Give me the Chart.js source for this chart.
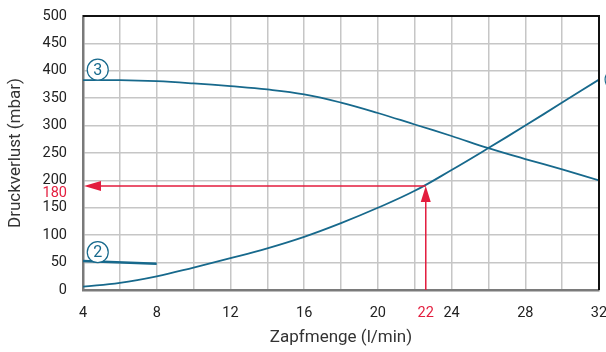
<!DOCTYPE html>
<html lang="de">
<head>
    <meta charset="UTF-8">
    <title>Druckverlust</title>
    <script src="https://cdn.jsdelivr.net/npm/chart.js"></script>
    <style>
        html, body { margin: 0; padding: 0; background: #fff; }
        #wrap { width: 606px; height: 352px; position: relative; }
    </style>
</head>
<body>
<div id="wrap"><canvas id="chart"></canvas></div>
<script>
    // Zapfmenge (l/min)
    const flow = [4, 6, 8, 10, 12, 14, 16, 18, 20, 22, 24, 26, 28, 30, 32];
    // curve 1 (rising)
    const curve1 = [6, 13, 25, 41, 58, 76, 97, 122, 150, 181, 219, 259, 300, 342, 384];
    // curve 3 (falling)
    const curve3 = [383, 383, 381, 377, 372, 366, 357, 342, 323, 302, 281, 259, 239, 220, 200];
    // curve 2 (short line)
    const flow2 = [4, 8];
    const curve2 = [53, 48];

    const xLabels = [4, 8, 12, 16, 20, 24, 28, 32];
    const yLabels = [0, 50, 100, 150, 200, 250, 300, 350, 400, 450, 500];
    const markerX = 22.6, markerXLabel = '22';
    const markerY = 190, markerYLabel = '180';
    const markerYTick = 176;

    const curveLabels = [
        { text: '3', x: 4.8, y: 402 },
        { text: '2', x: 4.8, y: 69 },
        { text: '1', x: 32.9, y: 384 }
    ];

    const blue = '#17698c';
    const red = '#e31d3e';
    const txt = '#222';

    const pts = (xs, ys) => xs.map((x, i) => ({ x, y: ys[i] }));

    const overlay = {
        id: 'overlay',
        afterDraw(chart) {
            const { ctx, chartArea: a, scales: { x, y } } = chart;
            ctx.save();
            // top / right frame
            ctx.strokeStyle = '#111';
            ctx.lineWidth = 2;
            ctx.beginPath();
            ctx.moveTo(a.left, a.top);
            ctx.lineTo(a.right, a.top);
            ctx.lineTo(a.right, a.bottom);
            ctx.stroke();

            // red arrows
            const mx = x.getPixelForValue(markerX);
            const my = y.getPixelForValue(markerY);
            ctx.strokeStyle = red;
            ctx.fillStyle = red;
            ctx.lineWidth = 1.5;
            ctx.beginPath();
            ctx.moveTo(mx, a.bottom);
            ctx.lineTo(mx, my + 12);
            ctx.moveTo(mx, my);
            ctx.lineTo(a.left + 14, my);
            ctx.stroke();
            ctx.beginPath();
            ctx.moveTo(a.left + 1, my);
            ctx.lineTo(a.left + 18, my - 5);
            ctx.lineTo(a.left + 18, my + 5);
            ctx.closePath();
            ctx.fill();
            ctx.beginPath();
            ctx.moveTo(mx, my);
            ctx.lineTo(mx - 5, my + 16);
            ctx.lineTo(mx + 5, my + 16);
            ctx.closePath();
            ctx.fill();

            // circled curve numbers
            ctx.strokeStyle = blue;
            ctx.lineWidth = 1.2;
            ctx.font = '16px Roboto';
            ctx.textAlign = 'center';
            ctx.textBaseline = 'middle';
            curveLabels.forEach(l => {
                const cx = x.getPixelForValue(l.x);
                const cy = y.getPixelForValue(l.y);
                ctx.fillStyle = '#fff';
                ctx.beginPath();
                ctx.arc(cx, cy, 10.5, 0, Math.PI * 2);
                ctx.fill();
                ctx.stroke();
                ctx.fillStyle = blue;
                ctx.fillText(l.text, cx, cy + 1);
            });
            ctx.restore();
        }
    };

    new Chart(document.getElementById('chart'), {
        type: 'line',
        data: {
            datasets: [
                { data: pts(flow, curve1), borderColor: blue, borderWidth: 1.8, tension: 0.4, pointRadius: 0 },
                { data: pts(flow, curve3), borderColor: blue, borderWidth: 1.8, tension: 0.4, pointRadius: 0 },
                { data: pts(flow2, curve2), borderColor: blue, borderWidth: 2.6, tension: 0, pointRadius: 0 }
            ]
        },
        options: {
            responsive: true,
            maintainAspectRatio: false,
            animation: false,
            layout: { padding: { left: 0, top: 16, right: 7, bottom: 0 } },
            plugins: { legend: { display: false }, tooltip: { enabled: false } },
            scales: {
                x: {
                    type: 'linear',
                    min: 4, max: 32,
                    afterBuildTicks(s) {
                        const t = [];
                        for (let v = 4; v <= 32; v += 2) t.push({ value: v });
                        t.push({ value: markerX });
                        s.ticks = t;
                    },
                    afterFit(s) { s.height = 62; },
                    grid: {
                        drawTicks: false,
                        lineWidth: 1.5,
                        color: c => c.tick && c.tick.value === markerX ? 'rgba(0,0,0,0)' : '#c6c6c6'
                    },
                    border: { color: '#7a7a7a', width: 2.5 },
                    ticks: {
                        padding: 15,
                        autoSkip: false,
                        maxRotation: 0,
                        font: { family: 'Roboto', size: 14.5 },
                        color: c => c.tick && c.tick.value === markerX ? red : txt,
                        callback: v => v === markerX ? markerXLabel : (xLabels.includes(v) ? String(v) : '')
                    },
                    title: {
                        display: true,
                        text: 'Zapfmenge (l/min)',
                        color: '#333',
                        font: { family: 'Roboto', size: 17 },
                        padding: { top: 8 }
                    }
                },
                y: {
                    min: 0, max: 500,
                    afterBuildTicks(s) {
                        const t = yLabels.map(v => ({ value: v }));
                        t.push({ value: markerYTick });
                        s.ticks = t;
                    },
                    afterFit(s) {
                        s.width = 83;
                        s.paddingTop = 0;
                        s.paddingBottom = 0;
                    },
                    grid: {
                        drawTicks: false,
                        lineWidth: 1.5,
                        color: c => c.tick && c.tick.value === markerYTick ? 'rgba(0,0,0,0)' : '#c6c6c6'
                    },
                    border: { color: '#7a7a7a', width: 2.5 },
                    ticks: {
                        padding: 16,
                        autoSkip: false,
                        font: { family: 'Roboto', size: 14.5 },
                        color: c => c.tick && c.tick.value === markerYTick ? red : txt,
                        callback: v => v === markerYTick ? markerYLabel : String(v)
                    },
                    title: {
                        display: true,
                        text: 'Druckverlust (mbar)',
                        color: '#333',
                        font: { family: 'Roboto', size: 17 },
                        padding: { top: 6, bottom: 0 }
                    }
                }
            }
        },
        plugins: [overlay]
    });
</script>
</body>
</html>
